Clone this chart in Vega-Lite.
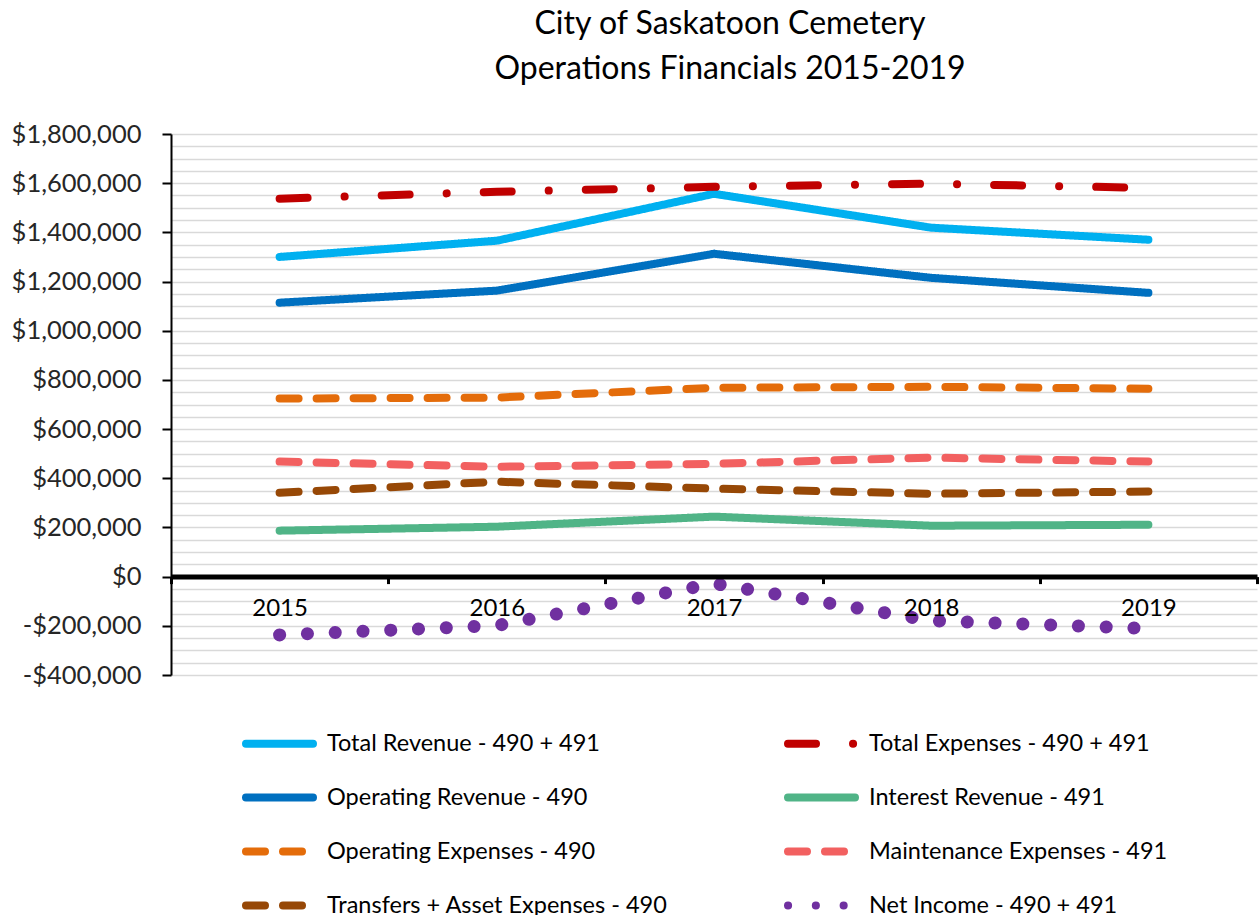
{
  "$schema": "https://vega.github.io/schema/vega-lite/v6.json",
  "width": 1086,
  "height": 541,
  "autosize": "none",
  "padding": {"left": 171, "top": 134, "right": 2, "bottom": 240},
  "background": "white",
  "config": {"view": {"stroke": null}, "font": "Lato"},
  "title": {
    "text": ["City of Saskatoon Cemetery", "Operations Financials 2015-2019"],
    "fontSize": 32, "font": "Lato", "fontWeight": "normal", "color": "black",
    "lineHeight": 45, "offset": 36, "dx": 16, "anchor": "middle"
  },
  "data": {"values": [
    {"year": 2015, "series": "Total Revenue - 490 + 491", "value": 1300000},
    {"year": 2016, "series": "Total Revenue - 490 + 491", "value": 1366000},
    {"year": 2017, "series": "Total Revenue - 490 + 491", "value": 1557000},
    {"year": 2018, "series": "Total Revenue - 490 + 491", "value": 1419000},
    {"year": 2019, "series": "Total Revenue - 490 + 491", "value": 1370000},
    {"year": 2015, "series": "Total Expenses - 490 + 491", "value": 1537000},
    {"year": 2016, "series": "Total Expenses - 490 + 491", "value": 1565000},
    {"year": 2017, "series": "Total Expenses - 490 + 491", "value": 1585000},
    {"year": 2018, "series": "Total Expenses - 490 + 491", "value": 1598000},
    {"year": 2019, "series": "Total Expenses - 490 + 491", "value": 1581000},
    {"year": 2015, "series": "Operating Revenue - 490", "value": 1114000},
    {"year": 2016, "series": "Operating Revenue - 490", "value": 1163000},
    {"year": 2017, "series": "Operating Revenue - 490", "value": 1313000},
    {"year": 2018, "series": "Operating Revenue - 490", "value": 1215000},
    {"year": 2019, "series": "Operating Revenue - 490", "value": 1154000},
    {"year": 2015, "series": "Interest Revenue - 491", "value": 187000},
    {"year": 2016, "series": "Interest Revenue - 491", "value": 203000},
    {"year": 2017, "series": "Interest Revenue - 491", "value": 244000},
    {"year": 2018, "series": "Interest Revenue - 491", "value": 207000},
    {"year": 2019, "series": "Interest Revenue - 491", "value": 211000},
    {"year": 2015, "series": "Operating Expenses - 490", "value": 724000},
    {"year": 2016, "series": "Operating Expenses - 490", "value": 728000},
    {"year": 2017, "series": "Operating Expenses - 490", "value": 768000},
    {"year": 2018, "series": "Operating Expenses - 490", "value": 772000},
    {"year": 2019, "series": "Operating Expenses - 490", "value": 764000},
    {"year": 2015, "series": "Maintenance Expenses - 491", "value": 468000},
    {"year": 2016, "series": "Maintenance Expenses - 491", "value": 447000},
    {"year": 2017, "series": "Maintenance Expenses - 491", "value": 459000},
    {"year": 2018, "series": "Maintenance Expenses - 491", "value": 484000},
    {"year": 2019, "series": "Maintenance Expenses - 491", "value": 468000},
    {"year": 2015, "series": "Transfers + Asset Expenses - 490", "value": 341000},
    {"year": 2016, "series": "Transfers + Asset Expenses - 490", "value": 386000},
    {"year": 2017, "series": "Transfers + Asset Expenses - 490", "value": 358000},
    {"year": 2018, "series": "Transfers + Asset Expenses - 490", "value": 337000},
    {"year": 2019, "series": "Transfers + Asset Expenses - 490", "value": 346000},
    {"year": 2015, "series": "Net Income - 490 + 491", "value": -237000},
    {"year": 2016, "series": "Net Income - 490 + 491", "value": -199000},
    {"year": 2017, "series": "Net Income - 490 + 491", "value": -28000},
    {"year": 2018, "series": "Net Income - 490 + 491", "value": -179000},
    {"year": 2019, "series": "Net Income - 490 + 491", "value": -211000}
  ]},
  "encoding": {
    "x": {
      "field": "year", "type": "quantitative",
      "scale": {"domain": [2014.5, 2019.5], "nice": false, "zero": false},
      "axis": {
        "title": null,
        "values": [2014.5, 2015.5, 2016.5, 2017.5, 2018.5, 2019.5],
        "offset": -98.4,
        "grid": false,
        "domainWidth": 5, "domainColor": "black", "domainCap": "butt",
        "tickColor": "black", "tickWidth": 3, "tickSize": 7,
        "labelExpr": "datum.value < 2019 ? format(datum.value + 0.5, 'd') : ''",
        "labelOffset": 108.6,
        "labelFontSize": 24, "labelFont": "Lato", "labelColor": "black",
        "labelPadding": 13, "labelFlush": false, "labelOverlap": false, "labelBound": false,
        "zindex": 1
      }
    },
    "y": {
      "field": "value", "type": "quantitative",
      "scale": {"domain": [-400000, 1800000], "nice": false, "zero": false},
      "axis": {
        "title": null,
        "values": [-400000, -350000, -300000, -250000, -200000, -150000, -100000, -50000, 0, 50000, 100000, 150000, 200000, 250000, 300000, 350000, 400000, 450000, 500000, 550000, 600000, 650000, 700000, 750000, 800000, 850000, 900000, 950000, 1000000, 1050000, 1100000, 1150000, 1200000, 1250000, 1300000, 1350000, 1400000, 1450000, 1500000, 1550000, 1600000, 1650000, 1700000, 1750000, 1800000],
        "grid": true, "gridColor": "#d9d9d9", "gridWidth": 1.5,
        "domainColor": "black", "domainWidth": 2,
        "tickColor": "black", "tickWidth": 2, "tickSize": 9,
        "tickOpacity": {"condition": {"test": "datum.value % 200000 != 0", "value": 0}, "value": 1},
        "labelExpr": "datum.value % 200000 == 0 ? (datum.value < 0 ? '-' : '') + '$' + format(abs(datum.value), ',') : ''",
        "labelFontSize": 25.5, "labelFont": "Lato", "labelColor": "#262626",
        "labelPadding": 21, "labelOverlap": false, "labelBound": false, "labelFlush": false
      }
    },
    "color": {
      "field": "series", "type": "nominal",
      "scale": {
        "domain": ["Total Revenue - 490 + 491", "Operating Revenue - 490", "Operating Expenses - 490", "Transfers + Asset Expenses - 490", "Total Expenses - 490 + 491", "Interest Revenue - 491", "Maintenance Expenses - 491", "Net Income - 490 + 491"],
        "range": ["#00b0f0", "#0070c0", "#e46c0a", "#974806", "#c00000", "#50b487", "#f26060", "#7030a0"]
      },
      "legend": {
        "orient": "none", "legendX": 71, "legendY": 572,
        "columns": 2, "title": null,
        "symbolType": "stroke", "symbolSize": 4489, "symbolStrokeWidth": 8,
        "labelFontSize": 23.5, "labelFont": "Lato", "labelColor": "black",
        "labelOffset": 10, "labelLimit": 600,
        "rowPadding": -14.4, "columnPadding": 104,
        "encode": {"symbols": {"update": {"strokeCap": {"value": "round"}}}}
      }
    },
    "strokeDash": {
      "field": "series", "type": "nominal",
      "scale": {
        "domain": ["Total Revenue - 490 + 491", "Operating Revenue - 490", "Operating Expenses - 490", "Transfers + Asset Expenses - 490", "Total Expenses - 490 + 491", "Interest Revenue - 491", "Maintenance Expenses - 491", "Net Income - 490 + 491"],
        "range": [[1, 0], [1, 0], [19, 18], [19, 18], [28, 37, 0.1, 37], [1, 0], [19, 18], [0.1, 27.7]]
      }
    }
  },
  "layer": [
    {
      "transform": [{"filter": "datum.series != 'Net Income - 490 + 491'"}],
      "mark": {"type": "line", "strokeWidth": 8, "strokeCap": "round", "strokeJoin": "round"}
    },
    {
      "transform": [{"filter": "datum.series == 'Net Income - 490 + 491'"}],
      "mark": {"type": "line", "strokeWidth": 13, "strokeCap": "round", "strokeJoin": "round"}
    }
  ]
}
